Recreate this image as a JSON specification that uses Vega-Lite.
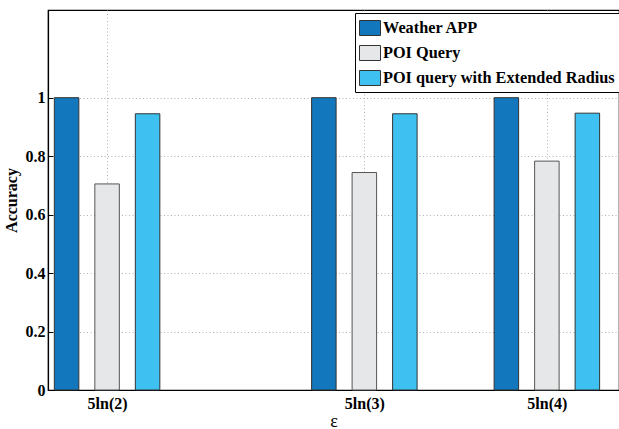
{
  "$schema": "https://vega.github.io/schema/vega-lite/v6.json",
  "width": 571,
  "height": 380,
  "autosize": {"type": "none"},
  "padding": {"left": 48, "top": 10, "right": 0, "bottom": 39},
  "background": "white",
  "config": {
    "font": "Liberation Serif, Times New Roman, serif",
    "view": {"stroke": "black", "strokeWidth": 1.2},
    "axis": {
      "labelFont": "Liberation Serif, Times New Roman, serif",
      "labelFontWeight": "bold",
      "labelFontSize": 16,
      "labelColor": "black",
      "titleFont": "Liberation Serif, Times New Roman, serif",
      "titleColor": "black",
      "domainColor": "black",
      "domainWidth": 1.2,
      "tickColor": "black",
      "tickWidth": 1,
      "gridColor": "#b0b0b0",
      "gridDash": [1, 2.5],
      "gridWidth": 1
    }
  },
  "data": {
    "values": [
      {"eps": 3.4657, "method": "Weather APP", "accuracy": 1.0},
      {"eps": 3.4657, "method": "POI Query", "accuracy": 0.705},
      {"eps": 3.4657, "method": "POI query with Extended Radius", "accuracy": 0.945},
      {"eps": 5.4931, "method": "Weather APP", "accuracy": 1.0},
      {"eps": 5.4931, "method": "POI Query", "accuracy": 0.744},
      {"eps": 5.4931, "method": "POI query with Extended Radius", "accuracy": 0.945},
      {"eps": 6.9315, "method": "Weather APP", "accuracy": 1.0},
      {"eps": 6.9315, "method": "POI Query", "accuracy": 0.783},
      {"eps": 6.9315, "method": "POI query with Extended Radius", "accuracy": 0.947}
    ]
  },
  "encoding": {
    "x": {
      "field": "eps",
      "type": "quantitative",
      "scale": {"domain": [3, 7.5], "nice": false, "zero": false, "padding": 0},
      "axis": {
        "values": [3.4657, 5.4931, 6.9315],
        "labelExpr": "datum.value < 4 ? '5ln(2)' : datum.value < 6 ? '5ln(3)' : '5ln(4)'",
        "title": "ε",
        "titleFontSize": 18,
        "titleFontWeight": "normal",
        "titlePadding": 1,
        "grid": true,
        "ticks": true,
        "tickSize": -5,
        "labelPadding": 10
      }
    },
    "y": {
      "field": "accuracy",
      "type": "quantitative",
      "scale": {"domain": [0, 1.3], "nice": false, "padding": 0},
      "axis": {
        "values": [0, 0.2, 0.4, 0.6, 0.8, 1],
        "format": "~g",
        "title": "Accuracy",
        "titleFontSize": 16,
        "titleFontWeight": "bold",
        "titlePadding": 6,
        "grid": true,
        "ticks": true,
        "tickSize": -5,
        "labelPadding": 8
      }
    },
    "color": {
      "field": "method",
      "type": "nominal",
      "scale": {
        "domain": ["Weather APP", "POI Query", "POI query with Extended Radius"],
        "range": ["#1277bd", "#e6e7e8", "#3ec1f0"]
      },
      "legend": {
        "title": null,
        "orient": "none",
        "legendX": 307,
        "legendY": 3,
        "strokeColor": "black",
        "fillColor": "white",
        "padding": 4,
        "symbolType": "M-1,-0.714H1V0.714H-1Z",
        "symbolSize": 441,
        "symbolStrokeColor": "#333",
        "symbolStrokeWidth": 1,
        "symbolOpacity": 1,
        "labelFont": "Liberation Serif, Times New Roman, serif",
        "labelFontWeight": "bold",
        "labelFontSize": 16.3,
        "labelColor": "black",
        "labelOffset": 2,
        "labelLimit": 400,
        "rowPadding": 4
      }
    }
  },
  "layer": [
    {
      "transform": [{"filter": "datum.method == 'Weather APP'"}],
      "mark": {"type": "bar", "width": 24.5, "xOffset": -40.5, "stroke": "#333", "strokeWidth": 1, "opacity": 1}
    },
    {
      "transform": [{"filter": "datum.method == 'POI Query'"}],
      "mark": {"type": "bar", "width": 24.5, "xOffset": 0, "stroke": "#555", "strokeWidth": 1, "opacity": 1}
    },
    {
      "transform": [{"filter": "datum.method == 'POI query with Extended Radius'"}],
      "mark": {"type": "bar", "width": 24.5, "xOffset": 40.5, "stroke": "#333", "strokeWidth": 1, "opacity": 1}
    }
  ]
}
